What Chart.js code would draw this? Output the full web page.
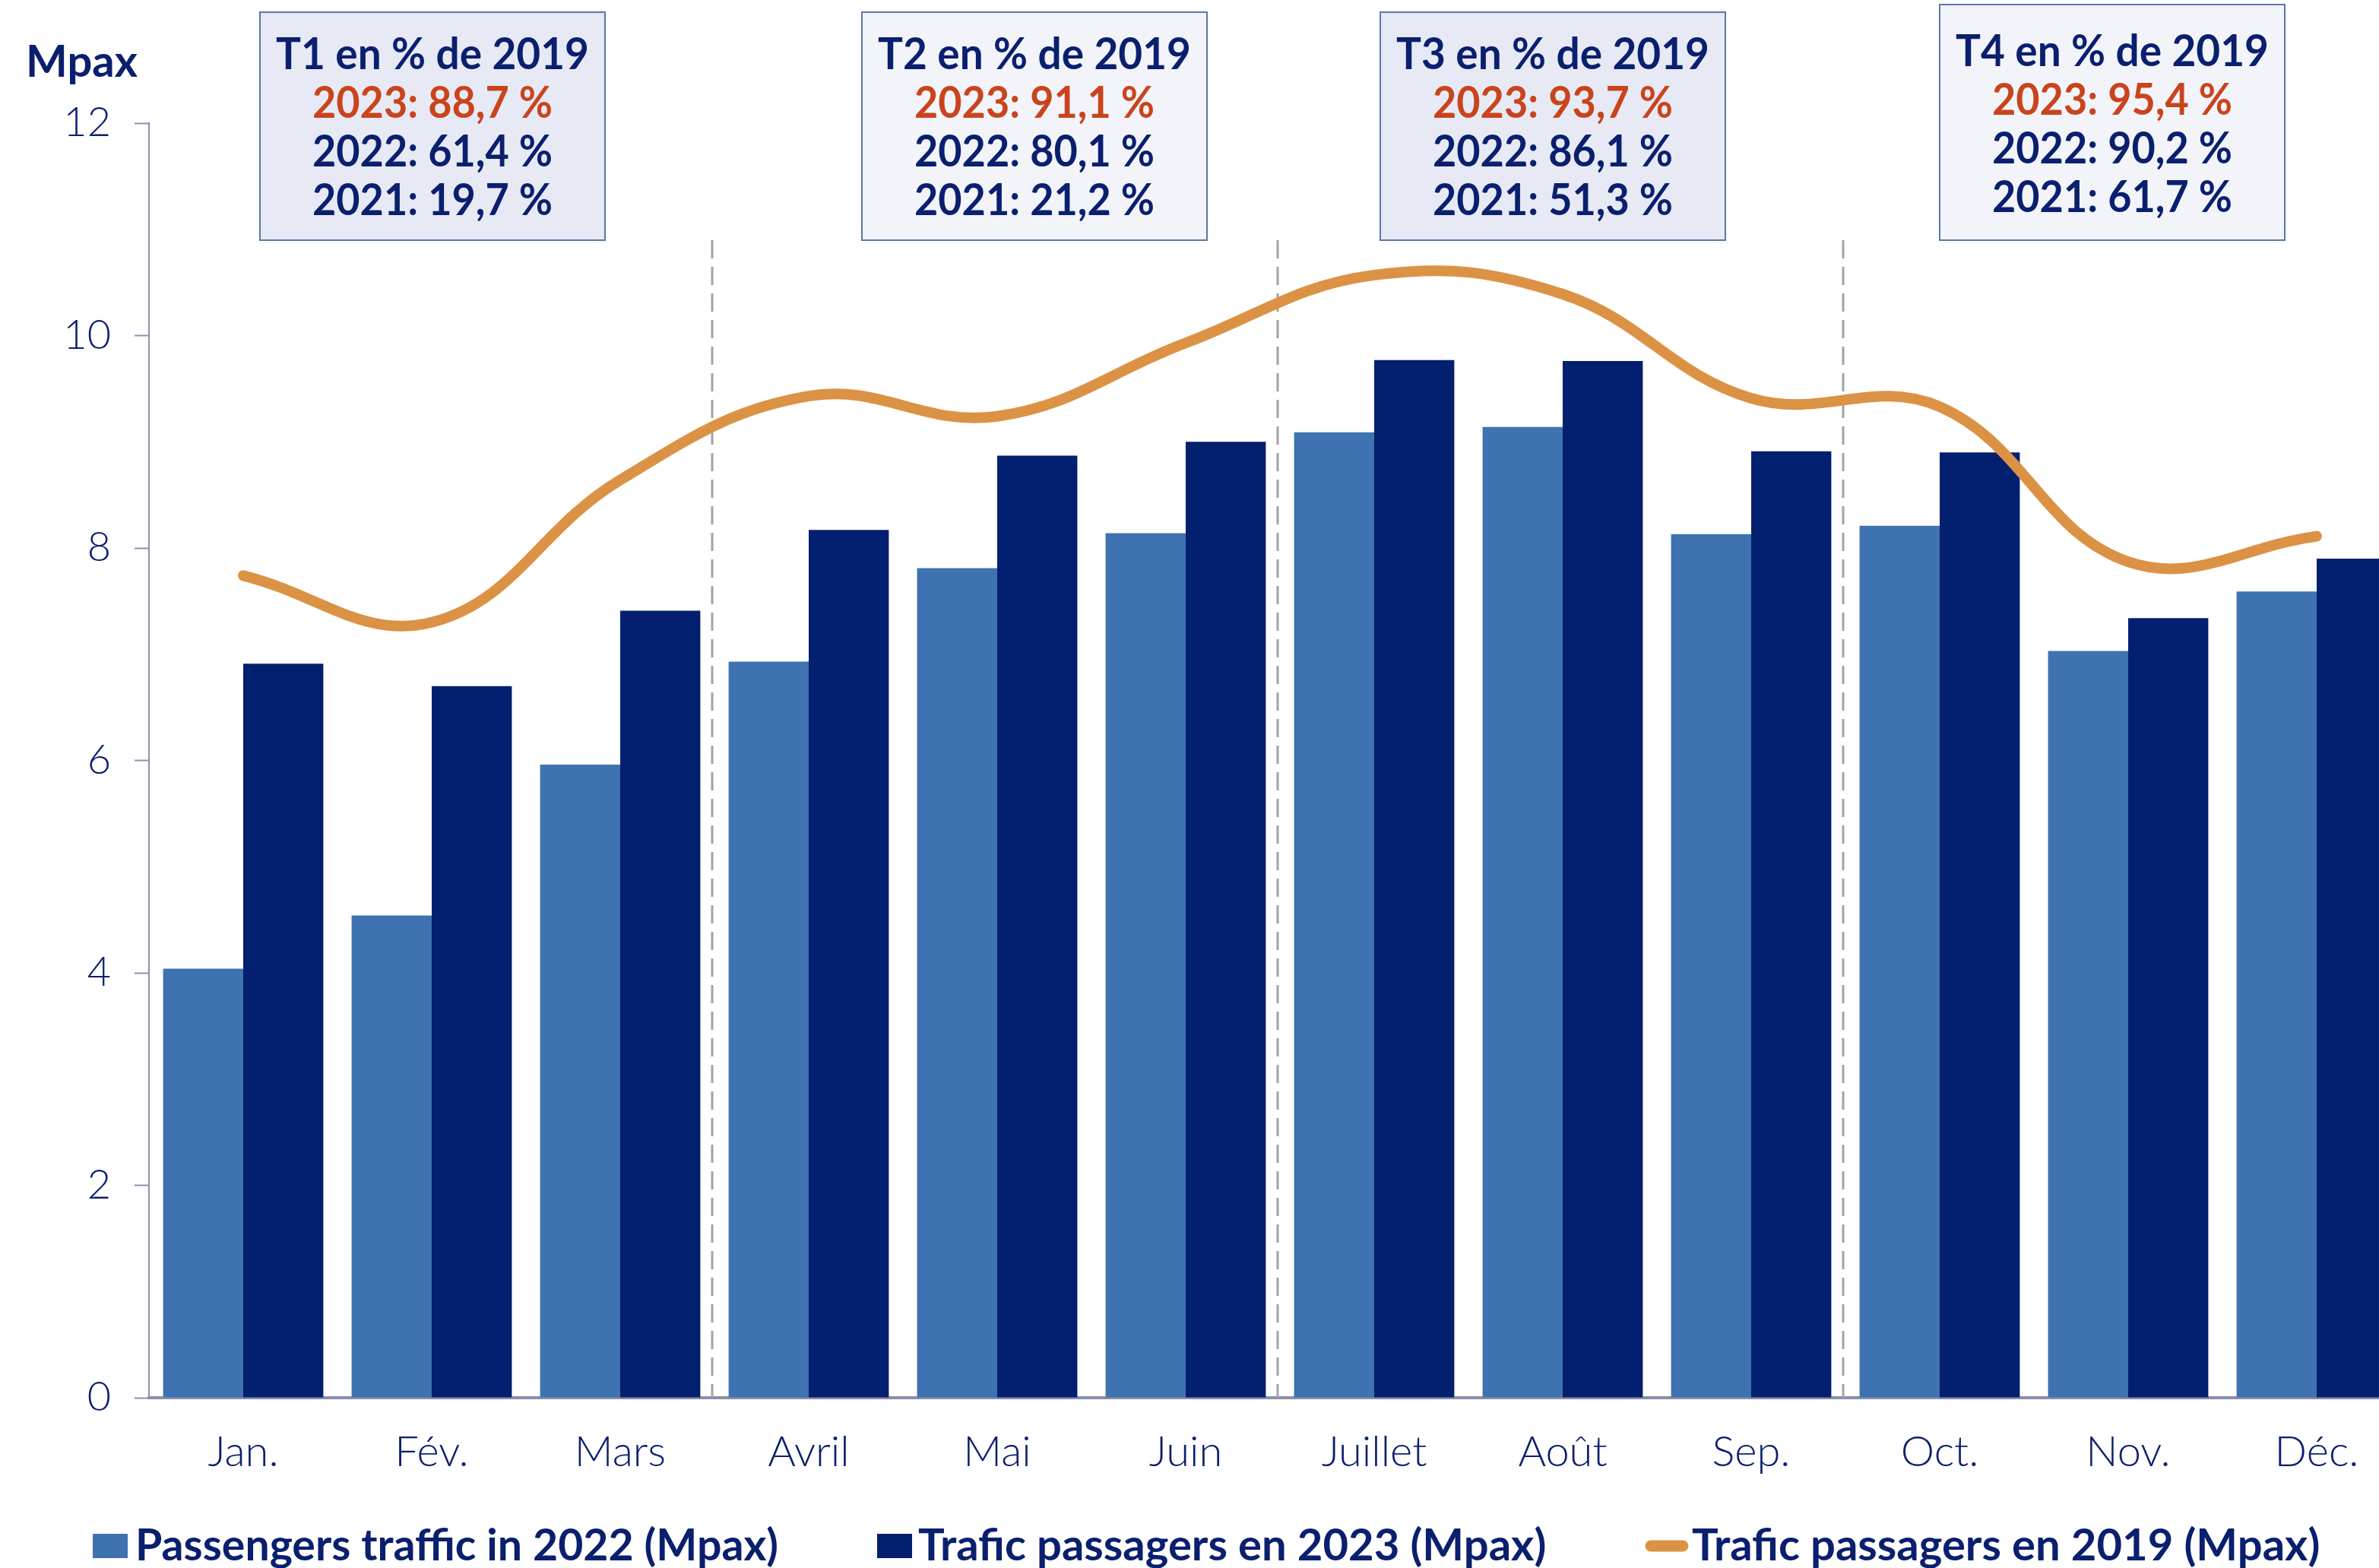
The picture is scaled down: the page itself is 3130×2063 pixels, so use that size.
<!DOCTYPE html>
<html>
<head>
<meta charset="utf-8">
<script src="https://cdn.jsdelivr.net/npm/chart.js@4.4.1/dist/chart.umd.min.js"></script>
<style>
html,body{margin:0;padding:0;overflow:hidden;background:#fff;}
canvas{display:block;}
</style>
</head>
<body>
<canvas id="c" width="3172" height="2063"></canvas>
<script>
// ---- data ----
const months = ['Jan.','Fév.','Mars','Avril','Mai','Juin','Juillet','Août','Sep.','Oct.','Nov.','Déc.'];
const traffic2022 = [4.04, 4.54, 5.96, 6.93, 7.81, 8.14, 9.09, 9.14, 8.13, 8.21, 7.03, 7.59];
const traffic2023 = [6.91, 6.70, 7.41, 8.17, 8.87, 9.00, 9.77, 9.76, 8.91, 8.90, 7.34, 7.90];
const traffic2019 = [7.74, 7.30, 8.64, 9.43, 9.24, 9.93, 10.57, 10.39, 9.41, 9.33, 7.87, 8.11];
const yMin = 0, yMax = 12, yStep = 2;
const yUnit = 'Mpax';
const quarterTitles = ['T1 en % de 2019','T2 en % de 2019','T3 en % de 2019','T4 en % de 2019'];
const share2023 = ['2023: 88,7 %','2023: 91,1 %','2023: 93,7 %','2023: 95,4 %'];
const share2022 = ['2022: 61,4 %','2022: 80,1 %','2022: 86,1 %','2022: 90,2 %'];
const share2021 = ['2021: 19,7 %','2021: 21,2 %','2021: 51,3 %','2021: 61,7 %'];
const legendLabels = ['Passengers traffic in 2022 (Mpax)','Trafic passagers en 2023 (Mpax)','Trafic passagers en 2019 (Mpax)'];
const quarterBreaks = [3, 6, 9];

// ---- styles ----
const NAVY = '#0a1f6e';
const RED = '#c9441c';
const C2022 = '#3f72b0';
const C2023 = '#031f6f';
const C2019 = '#dc9245';
const FONT_BOLD = 'Lato, "Open Sans", "DejaVu Sans", sans-serif';

const boxes = [
  {x: 342, top: 16, w: 454, fill: '#e7eaf5'},
  {x: 1134, top: 16, w: 454, fill: '#f2f4fa'},
  {x: 1816, top: 16, w: 454, fill: '#e7eaf5'},
  {x: 2552, top: 6, w: 454, fill: '#f2f4fa'}
];
const boxBottom = 316;

const decorPlugin = {
  id: 'decor',
  beforeDatasetsDraw(chart) {
    const {ctx, chartArea, scales: {x}} = chart;
    ctx.save();
    ctx.strokeStyle = '#a3a3a3';
    ctx.lineWidth = 3;
    ctx.setLineDash([24, 11]);
    quarterBreaks.forEach(b => {
      const px = (x.getPixelForValue(b - 1) + x.getPixelForValue(b)) / 2 - 3;
      ctx.beginPath();
      ctx.moveTo(px, boxBottom);
      ctx.lineTo(px, chartArea.bottom);
      ctx.stroke();
    });
    ctx.restore();
  },
  afterDraw(chart) {
    const {ctx} = chart;
    ctx.save();
    // unit label
    ctx.fillStyle = NAVY;
    ctx.font = 'bold 58px ' + FONT_BOLD;
    ctx.textAlign = 'left';
    ctx.textBaseline = 'middle';
    ctx.fillText(yUnit, 34, 82, 148);
    // quarter boxes
    boxes.forEach((b, i) => {
      ctx.fillStyle = b.fill;
      ctx.fillRect(b.x, b.top, b.w, boxBottom - b.top);
      ctx.strokeStyle = '#5b78a8';
      ctx.lineWidth = 2;
      ctx.strokeRect(b.x, b.top, b.w, boxBottom - b.top);
      const cx = b.x + b.w / 2;
      const off = b.top < 10 ? -4 : 0;
      ctx.textAlign = 'center';
      ctx.textBaseline = 'middle';
      ctx.font = 'bold 58px ' + FONT_BOLD;
      ctx.fillStyle = NAVY;
      ctx.fillText(quarterTitles[i], cx, 72 + off, 412);
      ctx.fillStyle = RED;
      ctx.fillText(share2023[i], cx, 136 + off, 316);
      ctx.fillStyle = NAVY;
      ctx.fillText(share2022[i], cx, 200 + off, 316);
      ctx.fillText(share2021[i], cx, 264 + off, 316);
    });
    // legend
    const ly = 2034;
    ctx.fillStyle = C2022;
    ctx.fillRect(122, ly - 16, 46, 32);
    ctx.fillStyle = C2023;
    ctx.fillRect(1154, ly - 16, 46, 32);
    ctx.strokeStyle = C2019;
    ctx.lineWidth = 15;
    ctx.lineCap = 'round';
    ctx.beginPath();
    ctx.moveTo(2172, ly);
    ctx.lineTo(2214, ly);
    ctx.stroke();
    ctx.fillStyle = NAVY;
    ctx.textAlign = 'left';
    ctx.font = 'bold 58px ' + FONT_BOLD;
    ctx.fillText(legendLabels[0], 178, ly, 846);
    ctx.fillText(legendLabels[1], 1208, ly, 832);
    ctx.fillText(legendLabels[2], 2226, ly, 830);
    ctx.restore();
  }
};

new Chart(document.getElementById('c'), {
  type: 'bar',
  data: {
    labels: months,
    datasets: [
      {
        type: 'line',
        label: legendLabels[2],
        data: traffic2019,
        borderColor: C2019,
        borderWidth: 14,
        borderCapStyle: 'round',
        borderJoinStyle: 'round',
        tension: 0.4,
        pointRadius: 0,
        fill: false,
        order: 0
      },
      {
        label: legendLabels[0],
        data: traffic2022,
        backgroundColor: C2022,
        categoryPercentage: 0.85,
        barPercentage: 1.0,
        order: 1
      },
      {
        label: legendLabels[1],
        data: traffic2023,
        backgroundColor: C2023,
        categoryPercentage: 0.85,
        barPercentage: 1.0,
        order: 1
      }
    ]
  },
  options: {
    responsive: false,
    animation: false,
    devicePixelRatio: 1,
    layout: {padding: {top: 162, left: 0, right: 0, bottom: 0}},
    plugins: {legend: {display: false}, tooltip: {enabled: false}, title: {display: false}},
    scales: {
      x: {
        afterFit(s) { s.height = 224; },
        grid: {display: true, drawOnChartArea: false, drawTicks: false},
        border: {display: true, color: '#8b8ea8', width: 4},
        ticks: {
          color: NAVY,
          padding: 38,
          font: {family: 'Lato, "DejaVu Sans", sans-serif', weight: '300', size: 56}
        }
      },
      y: {
        min: yMin,
        max: yMax,
        afterFit(s) { s.width = 196; },
        grid: {display: true, drawOnChartArea: false, drawTicks: true, tickLength: 19, tickWidth: 2, tickColor: '#8b90b0'},
        border: {display: true, color: '#8b90b0', width: 2},
        ticks: {
          stepSize: yStep,
          color: NAVY,
          padding: 31,
          font: {family: 'Lato, "DejaVu Sans", sans-serif', weight: '300', size: 54}
        }
      }
    }
  },
  plugins: [decorPlugin]
});
</script>
</body>
</html>
